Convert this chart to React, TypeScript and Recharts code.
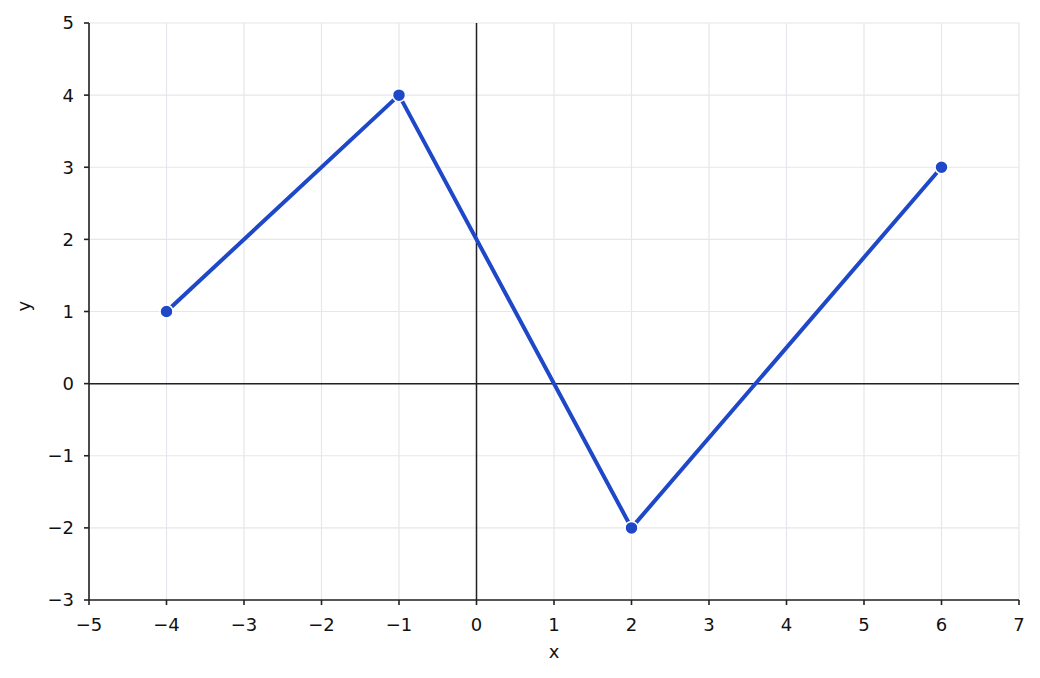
import {
  LineChart,
  Line,
  XAxis,
  YAxis,
  CartesianGrid,
  ReferenceLine,
} from "recharts";

// Points
const X_VALUES = [-4, -1, 2, 6];
const Y_VALUES = [1, 4, -2, 3];

const X_TICKS = [-5, -4, -3, -2, -1, 0, 1, 2, 3, 4, 5, 6, 7];
const Y_TICKS = [-3, -2, -1, 0, 1, 2, 3, 4, 5];

const data = X_VALUES.map((x, i) => ({ x, y: Y_VALUES[i] }));

const FONT = "'DejaVu Sans', sans-serif";
const INK = "#222";
const BLUE = "#1f48c9";

// matplotlib-style unicode minus
const fmt = (v: number) => (v < 0 ? `\u2212${Math.abs(v)}` : `${v}`);

export default function App() {
  return (
    <div style={{ position: "absolute", left: 0, top: 0, background: "#fff" }}>
      <LineChart
        width={1040}
        height={678}
        data={data}
        margin={{ top: 23, right: 21, bottom: 20, left: 29 }}
        style={{ fontFamily: FONT }}
      >
        <CartesianGrid stroke="#e6e6ec" strokeWidth={1.2} />
        <XAxis
          type="number"
          dataKey="x"
          domain={[-5, 7]}
          ticks={X_TICKS}
          interval={0}
          allowDataOverflow
          tickFormatter={fmt}
          tick={{ fontSize: 18, fill: "#111", fontFamily: FONT }}
          tickSize={5}
          tickMargin={13}
          axisLine={{ stroke: INK, strokeWidth: 1.6 }}
          tickLine={{ stroke: INK, strokeWidth: 1.6 }}
          height={58}
          label={{
            value: "x",
            position: "insideBottom",
            offset: 0,
            style: { fontSize: 18, fill: "#111", fontFamily: FONT },
          }}
        />
        <YAxis
          type="number"
          dataKey="y"
          domain={[-3, 5]}
          ticks={Y_TICKS}
          interval={0}
          allowDataOverflow
          tickFormatter={fmt}
          tick={{ fontSize: 18, fill: "#111", fontFamily: FONT }}
          tickSize={5}
          tickMargin={10}
          axisLine={{ stroke: INK, strokeWidth: 1.6 }}
          tickLine={{ stroke: INK, strokeWidth: 1.6 }}
          width={60}
          label={{
            value: "y",
            angle: -90,
            position: "insideLeft",
            offset: -5,
            style: { fontSize: 18, fill: "#111", fontFamily: FONT },
          }}
        />
        <ReferenceLine x={0} stroke={INK} strokeWidth={1.5} />
        <ReferenceLine y={0} stroke={INK} strokeWidth={1.5} />
        <Line
          type="linear"
          dataKey="y"
          stroke={BLUE}
          strokeWidth={4}
          dot={{ r: 6.5, fill: BLUE, stroke: "#fff", strokeWidth: 1.5 }}
          activeDot={false}
          isAnimationActive={false}
        />
      </LineChart>
    </div>
  );
}
